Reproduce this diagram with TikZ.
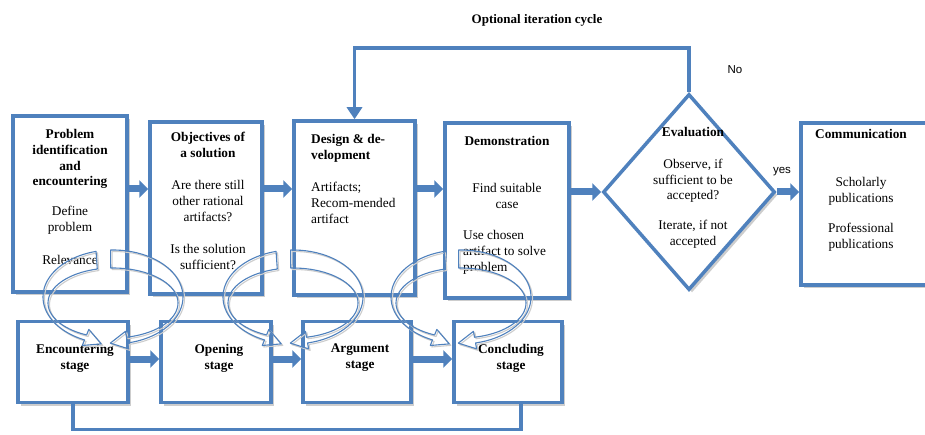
\documentclass[tikz,border=0pt]{standalone}
\usepackage{fontspec}
\setmainfont{Liberation Serif}
\newfontfamily\labelfont{Liberation Sans}
\usepackage{tikz}
\usetikzlibrary{arrows.meta, calc, positioning, shapes.geometric, shadows}

\definecolor{flowblue}{RGB}{79,129,189}
\definecolor{shadowgray}{RGB}{205,205,205}

\tikzset{
  stagebox/.style={draw=flowblue, line width=3.5pt, fill=white, inner sep=0pt,
    drop shadow={shadow xshift=3pt, shadow yshift=-3pt, fill=shadowgray, opacity=1}},
  decision/.style={stagebox, diamond, minimum width=172, minimum height=196},
  txt/.style={inner sep=0pt, align=center, font=\fontsize{13.3}{15.8}\selectfont},
  lbl/.style={inner sep=0pt, font=\labelfont\fontsize{11.5}{13}\selectfont},
  flow/.style={draw=flowblue, line width=7pt, -{Triangle[length=9pt,width=17pt]}},
  back/.style={draw=flowblue, line width=3.5pt},
  turnline/.style={draw=flowblue, line width=1.1pt, line join=round},
  turnshade/.style={draw=shadowgray, line width=1.1pt, line join=round,
    transform canvas={xshift=1.5pt, yshift=-1.5pt}},
}

% curved block arrow: centre x, centre y, start angle, end angle, turn of the head
\newcommand{\turnarc}[5]{%
  \coordinate (bo) at ({#1+70*cos(#4)},{#2+47*sin(#4)});
  \coordinate (bi) at ({#1+65*cos(#4)},{#2+6+35*sin(#4)});
  \coordinate (bm) at ($(bo)!0.5!(bi)$);
  \coordinate (bp) at ($(bo)!-6pt!(bi)$);
  \coordinate (bq) at ($(bi)!-6pt!(bo)$);
  \coordinate (bt) at ($(bm)!17pt!#5:(bo)$);
  \foreach \look in {turnshade,turnline}
    \draw[\look] plot[domain=#3:#4, samples=40] ({#1+70*cos(\x)},{#2+47*sin(\x)})
      -- (bp) -- (bt) -- (bq)
      -- plot[domain=#4:#3, samples=40] ({#1+65*cos(\x)},{#2+6+35*sin(\x)}) -- cycle;
}

\begin{document}
\begin{tikzpicture}[x=1pt, y=-1pt]
  \useasboundingbox (0,0) rectangle (925,435);

  % upper row
  \node[stagebox, minimum width=114, minimum height=176] (prob) at (70,204) {};
  \node[stagebox, minimum width=112, minimum height=172] (obj) at (206,208) {};
  \node[stagebox, minimum width=121, minimum height=174] (des) at (354.5,208) {};
  \node[stagebox, minimum width=124, minimum height=175] (demo) at (507,210.5) {};
  \node[decision] (eval) at (689,192) {};
  \node[stagebox, minimum width=129, minimum height=162] (comm) at (865.5,204) {};

  % lower row
  \node[stagebox, minimum width=110, minimum height=81] (enc) at (73,362) {};
  \node[stagebox, minimum width=110, minimum height=81] (open) at (216,362) {};
  \node[stagebox, minimum width=108, minimum height=81] (arg) at (357,362) {};
  \node[stagebox, minimum width=108, minimum height=81] (conc) at (508,362) {};

  % texts
  \node[txt, anchor=north] (probtxt) at (70,129) {\textbf{Problem}\\\textbf{identification}\\\textbf{and}\\\textbf{encountering}\\[14pt]Define\\problem\\[17pt]Relevance};
  \node[txt, anchor=north] (objtxt) at (208,132) {\textbf{Objectives of}\\\textbf{a solution}\\[16.5pt]Are there still\\other rational\\artifacts?\\[16.5pt]Is the solution\\sufficient?};
  \node[txt, align=left, anchor=north west] (destxt) at (311,134) {\textbf{Design \& de-}\\\textbf{velopment}\\[16.5pt]Artifacts;\\Recom-mended\\artifact};
  \node[txt, anchor=north] (demotxt) at (507,136) {\textbf{Demonstration}\\[31pt]Find suitable\\case};
  \node[txt, align=left, anchor=north west] (demouse) at (463,230) {Use chosen\\artifact to solve\\problem};
  \node[txt, anchor=north] (evaltxt) at (693,127) {\textbf{Evaluation}\\[16pt]Observe, if\\sufficient to be\\accepted?\\[14pt]Iterate, if not\\accepted};
  \node[txt, anchor=north] (commtxt) at (861,129) {\textbf{Communication}\\[32pt]Scholarly\\publications\\[15pt]Professional\\publications};
  \node[txt, anchor=north] (enctxt) at (75,344) {\textbf{Encountering}\\\textbf{stage}};
  \node[txt, anchor=north] (opentxt) at (219,344) {\textbf{Opening}\\\textbf{stage}};
  \node[txt, anchor=north] (argtxt) at (360,344) {\textbf{Argument}\\\textbf{stage}};
  \node[txt, anchor=north] (conctxt) at (511,344) {\textbf{Concluding}\\\textbf{stage}};

  \node[txt, font=\fontsize{13}{15}\selectfont\bfseries] (cycle) at (537,20) {Optional iteration cycle};
  \node[lbl] (no) at (735,70) {No};
  \node[lbl] (yes) at (782,172) {yes};

  % straight arrows
  \coordinate (toprow) at (0,189);
  \coordinate (botrow) at (0,359);
  \draw[flow] (prob.east |- toprow) -- (obj.west |- toprow);
  \draw[flow] (obj.east |- toprow) -- (des.west |- toprow);
  \draw[flow] (des.east |- toprow) -- (demo.west |- toprow);
  \draw[flow] (demo.east |- eval.west) -- (eval.west);
  \draw[flow] (eval.east) -- (eval.east -| comm.west);
  \draw[flow] (enc.east |- botrow) -- (open.west |- botrow);
  \draw[flow] (open.east |- botrow) -- (arg.west |- botrow);
  \draw[flow] (arg.east |- botrow) -- (conc.west |- botrow);

  % iteration and return lines
  \draw[back, -{Triangle[length=12pt,width=15pt]}] (eval.north) -- ++(0,-44) -| (des.north);
  \draw[back] (enc.south) -- ++(0,25) -| ([xshift=13pt]conc.south);

  % turning arrows
  \turnarc{113}{297}{256}{114}{90}
  \turnarc{113}{297}{-92}{78}{-90}
  \turnarc{293}{297}{256}{114}{90}
  \turnarc{293}{297}{-92}{78}{-90}
  \turnarc{461}{297}{256}{114}{90}
  \turnarc{461}{297}{-92}{78}{-90}
\end{tikzpicture}
\end{document}
